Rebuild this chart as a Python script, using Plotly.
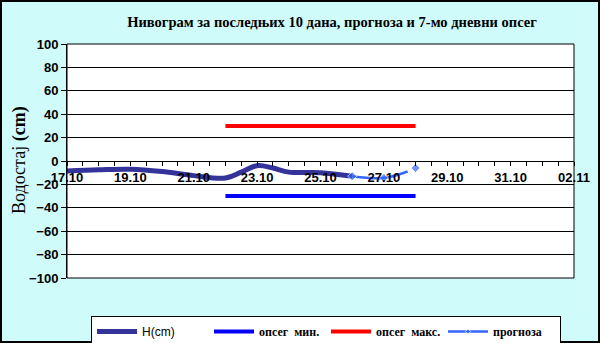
import plotly.graph_objects as go

# data
h_dates = ["2024-10-17", "2024-10-18", "2024-10-19", "2024-10-20", "2024-10-21",
           "2024-10-22", "2024-10-22 12:00", "2024-10-23", "2024-10-23 12:00",
           "2024-10-24", "2024-10-25", "2024-10-26"]
h_vals = [-8.5, -7.5, -7, -9, -12.5, -14.5, -9.5, -4, -6, -9.5, -10, -13]

fc_dates = ["2024-10-26", "2024-10-27", "2024-10-27 18:00", "2024-10-27 19:00", "2024-10-28"]
fc_vals = [-13, -14.5, -9, None, -6]
fc_sizes = [7, 7, 0, 0, 7]

range_dates = ["2024-10-22", "2024-10-28"]
range_min = [-30, -30]
range_max = [30, 30]

y_ticks = list(range(-100, 101, 20))

L, R, T, B = 67, 574, 44, 278
W, H = 600, 343
pw, ph = R - L, B - T


def px(x):
    return (x - L) / pw


def py(y):
    return (B - y) / ph


fig = go.Figure()
fig.add_trace(go.Scatter(x=h_dates, y=h_vals, mode="lines",
                         name="<span style='font-family:Liberation Sans'>H(cm)</span>",
                         line=dict(color="#333399", width=5, shape="spline")))
fig.add_trace(go.Scatter(x=range_dates, y=range_min, mode="lines", name="<b>опсег  мин.</b>",
                         line=dict(color="#0000ff", width=4)))
fig.add_trace(go.Scatter(x=range_dates, y=range_max, mode="lines", name="<b>опсег  макс.</b>",
                         line=dict(color="#ff0000", width=4)))
fig.add_trace(go.Scatter(x=fc_dates, y=fc_vals, mode="lines+markers", name="<b>прогноза</b>",
                         line=dict(color="#3366ff", width=2.5, shape="spline"),
                         marker=dict(symbol="diamond", size=fc_sizes, color="#3366ff"),
                         connectgaps=False))

fig.update_layout(
    width=W, height=H,
    margin=dict(l=L, r=W - R, t=T, b=H - B, autoexpand=False),
    paper_bgcolor="#d0fbfb",
    plot_bgcolor="#ffffff",
    title=dict(text="<b>Нивограм за последњих 10 дана, прогноза и 7-мо дневни опсег</b>",
               x=332 / W, xanchor="center", y=1 - 22 / H, yanchor="middle",
               font=dict(family="Liberation Serif", size=14.5, color="black")),
    font=dict(family="Liberation Sans", color="black"),
    showlegend=True,
    legend=dict(orientation="h", x=px(91), y=py(316), xanchor="left", yanchor="top",
                bgcolor="white", bordercolor="black", borderwidth=1,
                font=dict(family="Liberation Serif", size=12, color="black"),
                itemwidth=40, entrywidth=62),
)

fig.add_annotation(text="Водостај <b>(cm)</b>", textangle=-90, xref="paper", yref="paper",
                   x=px(19), y=py(160), xanchor="center", yanchor="middle", showarrow=False,
                   font=dict(family="Liberation Serif", size=18, color="black"))

fig.update_yaxes(range=[-100, 100], tickvals=y_ticks, showgrid=True, gridcolor="black",
                 gridwidth=1, zeroline=False, showline=True, linecolor="black", linewidth=1,
                 ticks="outside", ticklen=5, tickcolor="black",
                 tickfont=dict(family="Liberation Sans", size=13, color="black", weight="bold"))
fig.update_xaxes(type="date", range=["2024-10-17", "2024-11-02"],
                 dtick=2 * 86400000, tick0="2024-10-17", tickformat="%d.%m",
                 anchor="free", position=0.5, showgrid=False, zeroline=False,
                 showline=True, linecolor="black", linewidth=1,
                 ticks="outside", ticklen=4, tickcolor="black",
                 minor=dict(dtick=43200000, ticks="outside", ticklen=4, tickcolor="black", showgrid=False),
                 tickfont=dict(family="Liberation Sans", size=13, color="black", weight="bold"))

# plot area border
fig.add_shape(type="rect", xref="paper", yref="paper", x0=0, x1=1, y0=0, y1=1,
              line=dict(color="black", width=1), layer="above")
# outer border
fig.add_shape(type="rect", xref="paper", yref="paper", x0=px(1), x1=px(599), y0=py(342), y1=py(1),
              line=dict(color="black", width=2), layer="below")
# legend shadow
fig.add_shape(type="rect", xref="paper", yref="paper", x0=px(95), x1=px(557), y0=py(341), y1=py(320),
              line=dict(width=0), fillcolor="black", layer="below")

fig.write_html("out.html")
